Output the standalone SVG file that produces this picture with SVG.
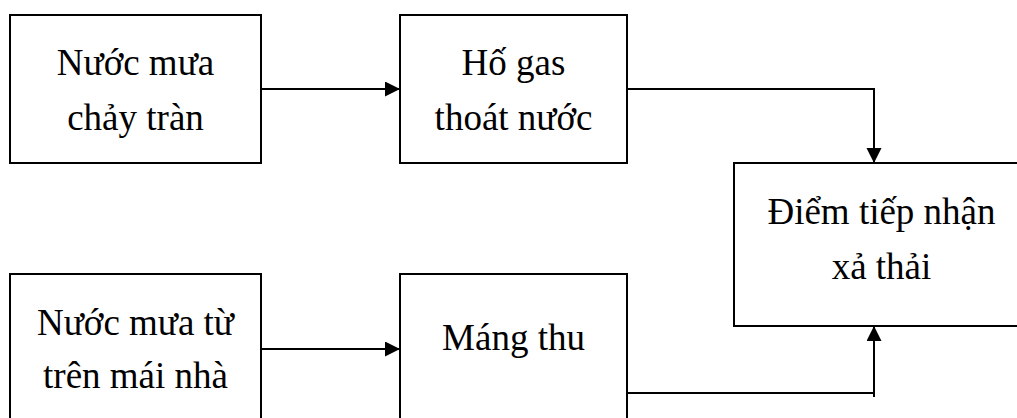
<svg xmlns="http://www.w3.org/2000/svg" width="1017" height="418" viewBox="0 0 1017 418">
<style>
.box{fill:#fff;stroke:#000;stroke-width:2}
.lbl{font-family:"Liberation Serif","Times New Roman",serif;font-size:37px;fill:#000;text-anchor:middle}
.conn{fill:none;stroke:#000;stroke-width:2}
</style>
<defs>
<marker id="arr" markerUnits="userSpaceOnUse" markerWidth="16" markerHeight="16" refX="15" refY="7.5" orient="auto">
<path d="M0,0 L15,7.5 L0,15 Z" fill="#000"/>
</marker>
</defs>
<rect width="1017" height="418" fill="#fff"/>
<g id="n1">
<rect class="box" x="10" y="15" width="251" height="148"/>
<text class="lbl" x="135.5" y="75">Nước mưa</text>
<text class="lbl" x="135.5" y="130">chảy tràn</text>
</g>
<g id="n2">
<rect class="box" x="400" y="15" width="227" height="148"/>
<text class="lbl" x="513.5" y="75">Hố gas</text>
<text class="lbl" x="513.5" y="130">thoát nước</text>
</g>
<g id="n3">
<rect class="box" x="734" y="163" width="300" height="163"/>
<text class="lbl" x="881.5" y="224">Điểm tiếp nhận</text>
<text class="lbl" x="881.5" y="279">xả thải</text>
</g>
<g id="n4">
<rect class="box" x="10" y="274" width="251" height="160"/>
<text class="lbl" x="135.5" y="335">Nước mưa từ</text>
<text class="lbl" x="135.5" y="388">trên mái nhà</text>
</g>
<g id="n5">
<rect class="box" x="400" y="274" width="227" height="160"/>
<text class="lbl" x="513.5" y="350">Máng thu</text>
</g>
<g id="connectors">
<path class="conn" d="M261,89 H400" marker-end="url(#arr)"/>
<path class="conn" d="M627,89 H874 V163" marker-end="url(#arr)"/>
<path class="conn" d="M261,349 H400" marker-end="url(#arr)"/>
<path class="conn" d="M627,393 H874"/>
<path class="conn" d="M874,397 V326" marker-end="url(#arr)"/>
</g>
</svg>
